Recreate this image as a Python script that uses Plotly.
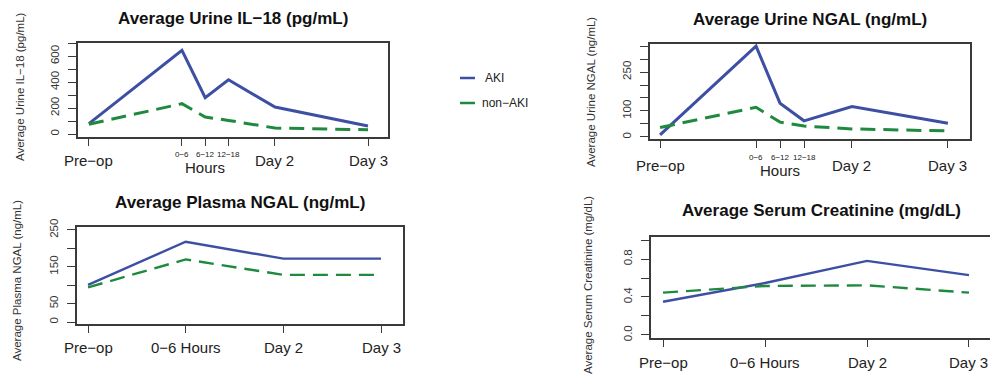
import plotly.graph_objects as go

# ---------------- data ----------------
hours_labels = ["Pre−op", "0−6", "6−12", "12−18", "Day 2", "Day 3"]
hours_pos = [0, 4, 5, 6, 8, 12]

il18_aki = [80, 645, 280, 419, 208, 62]
il18_non = [75, 234, 131, 105, 46, 33]

ungal_aki = [8, 350, 130, 62, 117, 53]
ungal_non = [36, 114, 57, 42, 31, 23]

short_labels = ["Pre−op", "0−6 Hours", "Day 2", "Day 3"]
short_pos = [0, 1, 2, 3]

pngal_aki = [101, 218, 172, 172]
pngal_non = [94, 170, 128, 128]

scr_aki = [0.35, 0.547, 0.78, 0.63]
scr_non = [0.446, 0.516, 0.523, 0.446]

titles = ["Average Urine IL−18 (pg/mL)", "Average Urine NGAL (ng/mL)",
          "Average Plasma NGAL (ng/mL)", "Average Serum Creatinine (mg/dL)"]
ytitles = ["Average Urine IL−18 (pg/mL)", "Average Urine NGAL (ng/mL)",
           "Average Plasma NGAL (ng/mL)", "Average Serum Creatinine (mg/dL)"]

y1_ticks = [0, 100, 200, 300, 400, 500, 600, 700]
y1_text = ["0", "", "200", "", "400", "", "600", ""]
y2_ticks = [0, 50, 100, 150, 200, 250, 300, 350]
y2_text = ["0", "", "100", "", "", "250", "", ""]
y3_ticks = [0, 50, 100, 150, 200, 250]
y3_text = ["0", "50", "", "150", "", "250"]
y4_ticks = [0.0, 0.2, 0.4, 0.6, 0.8, 1.0]
y4_text = ["0.0", "", "0.4", "", "0.8", ""]

# ---------------- styling ----------------
W, H = 990, 374
BLUE = "#3d4fa3"
GREEN = "#1f8a3e"
AX = "#3a3a3a"
FONT = "Liberation Sans, Arial, sans-serif"


def px(x):
    return x / W


def py(y):
    return 1 - y / H


fig = go.Figure()

panels = [
    dict(xs=hours_pos, aki=il18_aki, non=il18_non, lw=3.0),
    dict(xs=hours_pos, aki=ungal_aki, non=ungal_non, lw=3.0),
    dict(xs=short_pos, aki=pngal_aki, non=pngal_non, lw=2.4),
    dict(xs=short_pos, aki=scr_aki, non=scr_non, lw=2.4),
]

for i, p in enumerate(panels):
    sfx = "" if i == 0 else str(i + 1)
    fig.add_trace(go.Scatter(x=p["xs"], y=p["aki"], mode="lines", name="AKI",
                             line=dict(color=BLUE, width=p["lw"]),
                             xaxis="x" + sfx, yaxis="y" + sfx, showlegend=False))
    fig.add_trace(go.Scatter(x=p["xs"], y=p["non"], mode="lines", name="non-AKI",
                             line=dict(color=GREEN, width=p["lw"], dash="15px,8px"),
                             xaxis="x" + sfx, yaxis="y" + sfx, showlegend=False))

# box pixel geometry (left, right, top, bottom)
boxes = [(78, 388, 43, 137), (650, 970, 44, 139), (77, 403, 227, 324), (651, 990, 237, 338)]
xranges = [[-0.47, 12.86], [-0.42, 12.92], [-0.113, 3.225], [-0.118, 3.206]]
yranges = [[-23, 702], [-8, 358], [-5.4, 258], [-0.032, 1.032]]
yticks = [(y1_ticks, y1_text), (y2_ticks, y2_text), (y3_ticks, y3_text), (y4_ticks, y4_text)]
xticks = [hours_pos, hours_pos, short_pos, short_pos]

layout = dict(template="none", width=W, height=H, margin=dict(l=0, r=0, t=0, b=0, pad=0),
              paper_bgcolor="white", plot_bgcolor="white",
              font=dict(family=FONT, color="#222"), showlegend=False)

for i in range(4):
    sfx = "" if i == 0 else str(i + 1)
    l, r, t, b = boxes[i]
    layout["xaxis" + sfx] = dict(
        domain=[px(l), min(px(r), 1.0)], range=xranges[i], anchor="y" + sfx,
        automargin=False,
        showgrid=False, zeroline=False, showline=True, mirror=True,
        linecolor=AX, linewidth=1.5, ticks="outside", ticklen=7, tickwidth=1.4,
        tickcolor=AX, tickvals=xticks[i], showticklabels=False)
    layout["yaxis" + sfx] = dict(
        domain=[py(b), py(t)], range=yranges[i], anchor="x" + sfx,
        automargin=False,
        showgrid=False, zeroline=False, showline=True, mirror=True,
        linecolor=AX, linewidth=1.5, ticks="outside", ticklen=8, tickwidth=1.4,
        tickcolor=AX, tickvals=yticks[i][0], ticktext=yticks[i][1],
        tickangle=-90, ticklabelstandoff=5,
        tickfont=dict(size=11.5, color="#333", family=FONT))

annotations = []
# titles
title_pos = [(233, 19), (810, 20), (240, 202), (821, 210)]
for (x, y), txt in zip(title_pos, titles):
    annotations.append(dict(text="<b>" + txt + "</b>", x=px(x), y=py(y), xref="paper", yref="paper",
                            showarrow=False, xanchor="center", yanchor="middle",
                            font=dict(size=17, color="#111", family=FONT)))
# y titles
ytitle_pos = [(20, 87), (591, 92), (17, 281), (588, 285)]
for (x, y), txt in zip(ytitle_pos, ytitles):
    annotations.append(dict(text=txt, x=px(x), y=py(y), xref="paper", yref="paper",
                            showarrow=False, textangle=-90, xanchor="center", yanchor="middle",
                            font=dict(size=11.5, color="#333", family=FONT)))

# x tick labels for top panels
big_y = [161, 165]
small_y = [154, 157]
hours_y = [167, 170]
for i in range(2):
    sfx = "" if i == 0 else str(i + 1)
    for lab, pos in zip(hours_labels, hours_pos):
        small = lab in ("0−6", "6−12", "12−18")
        annotations.append(dict(text=lab, x=pos, xref="x" + sfx, y=py(small_y[i] if small else big_y[i]),
                                yref="paper", showarrow=False, xanchor="center", yanchor="middle",
                                font=dict(size=8 if small else 15, color="#222", family=FONT)))
    annotations.append(dict(text="Hours", x=hours_pos[2], xref="x" + sfx, y=py(hours_y[i]),
                            yref="paper", showarrow=False, xanchor="center", yanchor="middle",
                            font=dict(size=15, color="#222", family=FONT)))
# x tick labels for bottom panels
bot_y = [347, 362]
for j, i in enumerate([2, 3]):
    sfx = str(i + 1)
    for lab, pos in zip(short_labels, short_pos):
        annotations.append(dict(text=lab, x=pos, xref="x" + sfx, y=py(bot_y[j]),
                                yref="paper", showarrow=False, xanchor="center", yanchor="middle",
                                font=dict(size=15, color="#222", family=FONT)))

# legend
legend_items = [("AKI", BLUE, 78, 483), ("non−AKI", GREEN, 103, 480)]
shapes = []
for name, col, y, tx in legend_items:
    shapes.append(dict(type="line", xref="paper", yref="paper", x0=px(460), x1=px(475),
                       y0=py(y), y1=py(y), line=dict(color=col, width=2.5)))
    annotations.append(dict(text=name, x=px(tx), y=py(y), xref="paper", yref="paper",
                            showarrow=False, xanchor="left", yanchor="middle",
                            font=dict(size=12, color="#222", family=FONT)))

layout["annotations"] = annotations
layout["shapes"] = shapes
fig.update_layout(**layout)
fig.write_html("out.html", config={"displayModeBar": False},
               post_script="document.body.style.margin='0';document.body.style.overflow='hidden';")
